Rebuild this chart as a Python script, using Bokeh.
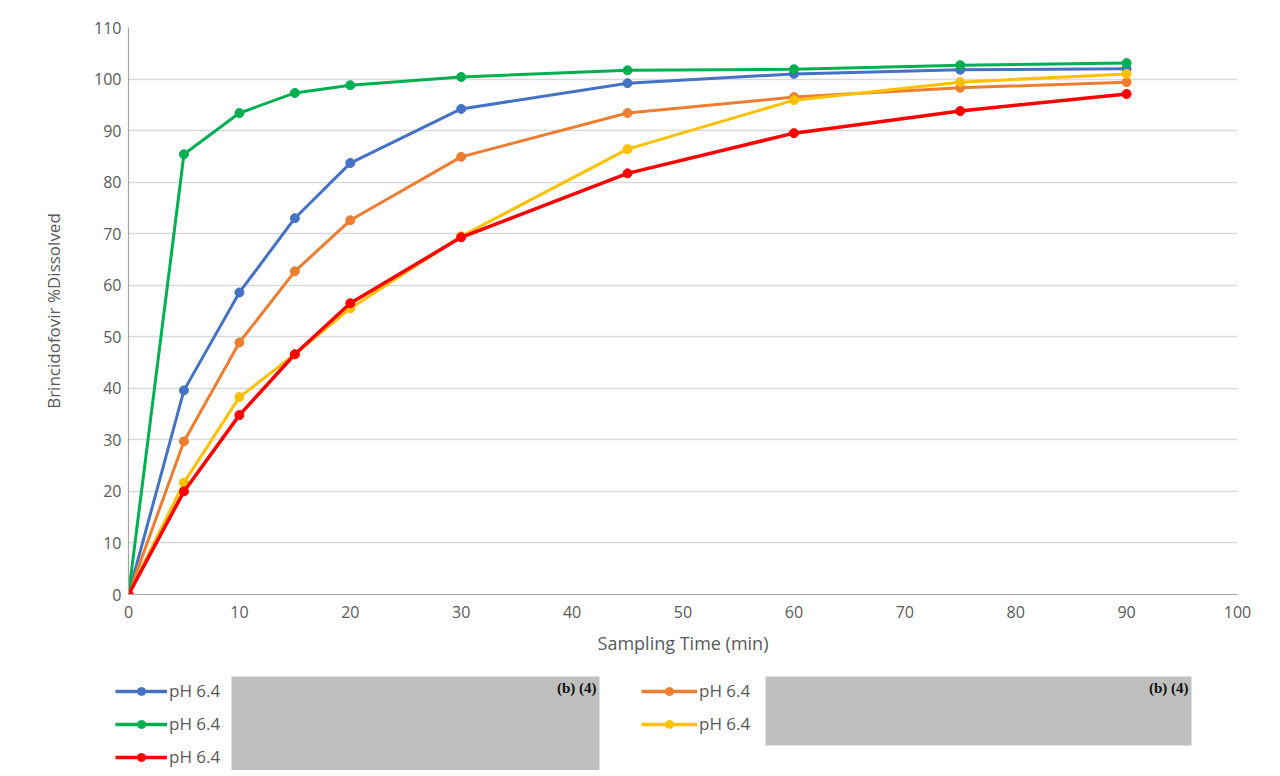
from bokeh.plotting import figure
from bokeh.layouts import column, row
from bokeh.models import Range1d, FixedTicker, ColumnDataSource, Legend, LegendItem
from bokeh.core.properties import value
from bokeh.embed import file_html
from bokeh.resources import INLINE

# ---- data ----
time_min = [0, 5, 10, 15, 20, 30, 45, 60, 75, 90]
blue_vals = [0, 39.6, 58.6, 73.0, 83.7, 94.2, 99.2, 101.0, 101.8, 102.0]
orange_vals = [0, 29.7, 48.9, 62.7, 72.6, 84.9, 93.4, 96.5, 98.3, 99.4]
green_vals = [0, 85.4, 93.4, 97.3, 98.8, 100.4, 101.7, 101.9, 102.7, 103.1]
yellow_vals = [0, 21.7, 38.3, 46.6, 55.5, 69.5, 86.4, 95.9, 99.4, 101.0]
red_vals = [0, 20.0, 34.8, 46.6, 56.5, 69.3, 81.7, 89.5, 93.8, 97.1]

series_names = ["pH 6.4", "pH 6.4", "pH 6.4", "pH 6.4", "pH 6.4"]
series_colors = ["#4472C4", "#ED7D31", "#00B050", "#FFC000", "#FF0000"]
series_vals = [blue_vals, orange_vals, green_vals, yellow_vals, red_vals]
series_widths = [3, 3, 3, 3, 3.5]

x_ticks = [0, 10, 20, 30, 40, 50, 60, 70, 80, 90, 100]
y_ticks = [0, 10, 20, 30, 40, 50, 60, 70, 80, 90, 100, 110]
x_label = "Sampling Time (min)"
y_label = "Brincidofovir %Dissolved"
redaction_text = "(b) (4)"

FONT = "Open Sans"
TXT = "#595959"
W = 1270

# ---- main chart ----
p = figure(width=W, height=664, output_backend="svg", toolbar_location=None,
           x_range=Range1d(0, 100), y_range=Range1d(0, 110),
           min_border_left=128, min_border_right=33, min_border_top=27, min_border_bottom=70)
p.outline_line_color = None

for vals, col, lw in zip(series_vals, series_colors, series_widths):
    src = ColumnDataSource(dict(x=time_min, y=vals))
    p.line("x", "y", source=src, line_color=col, line_width=lw)
    p.scatter("x", "y", source=src, size=9, fill_color=col, line_color=col)

p.xaxis.ticker = FixedTicker(ticks=x_ticks)
p.yaxis.ticker = FixedTicker(ticks=y_ticks)
for ax in (p.xaxis[0], p.yaxis[0]):
    ax.major_label_text_font = FONT
    ax.major_label_text_font_size = "16px"
    ax.major_label_text_color = TXT
    ax.axis_label_text_font = FONT
    ax.axis_label_text_color = TXT
    ax.axis_label_text_font_style = "normal"
    ax.major_tick_in = 0
    ax.major_tick_out = 0
    ax.minor_tick_in = 0
    ax.minor_tick_out = 0
    ax.axis_line_color = "#a6a6a6"
    ax.axis_line_width = 1.2
p.xaxis.axis_label = x_label
p.yaxis.axis_label = y_label
p.xaxis.axis_label_text_font_size = "18px"
p.yaxis.axis_label_text_font_size = "17px"
p.xaxis.major_label_standoff = 11
p.xaxis.axis_label_standoff = 10
p.yaxis.major_label_standoff = 7
p.yaxis.axis_label_standoff = 26

p.xgrid.grid_line_color = None
p.ygrid.grid_line_color = "#d9d9d9"
p.ygrid.grid_line_width = 1.5

# ---- legend strip (coordinates in page pixels) ----
leg = figure(width=W, height=106, output_backend="svg", toolbar_location=None,
             x_range=Range1d(0, W), y_range=Range1d(770, 664),
             x_axis_type=None, y_axis_type=None,
             min_border_left=0, min_border_right=0, min_border_top=0, min_border_bottom=0)
leg.outline_line_color = None
leg.xgrid.grid_line_color = None
leg.ygrid.grid_line_color = None

# redaction boxes
box_left = [231, 765]
box_right = [599, 1191]
box_top = [676, 676]
box_bottom = [770, 745]
leg.quad(left=box_left, right=box_right, top=box_top, bottom=box_bottom,
         fill_color="#bfbfbf", line_color=None)
leg.text([r - 3 for r in box_right], [679, 679], text=[redaction_text] * 2,
         text_font=value("Liberation Serif"), text_font_size="15px",
         text_font_style="bold", text_color="#111111",
         text_align="right", text_baseline="top")

# legend proxies: one off-range point each, so that the legend can draw their glyphs
items = []
for name, c in zip(series_names, series_colors):
    proxy = ColumnDataSource(dict(x=[-1000], y=[-1000]))
    lr = leg.line("x", "y", source=proxy, line_color=c, line_width=3.5)
    sr = leg.scatter("x", "y", source=proxy, size=9, fill_color=c, line_color=c)
    items.append(LegendItem(label=name, renderers=[lr, sr]))

# Excel-style: column 1 = series 1, 3, 5 ; column 2 = series 2, 4
groups = [([items[0], items[2], items[4]], (115, 2), 52),
          ([items[1], items[3]], (641, 35), 56)]
for its, loc, gw in groups:
    lg = Legend(items=its, location=loc, orientation="vertical",
                glyph_width=gw, glyph_height=20, label_height=20, spacing=10,
                label_standoff=2, padding=0, margin=0,
                label_text_font=FONT, label_text_font_size="17px", label_text_color=TXT,
                border_line_color=None, background_fill_alpha=0)
    leg.add_layout(lg, "center")

layout = column(p, row(leg))
open("out.html", "w").write(file_html(layout, INLINE))
